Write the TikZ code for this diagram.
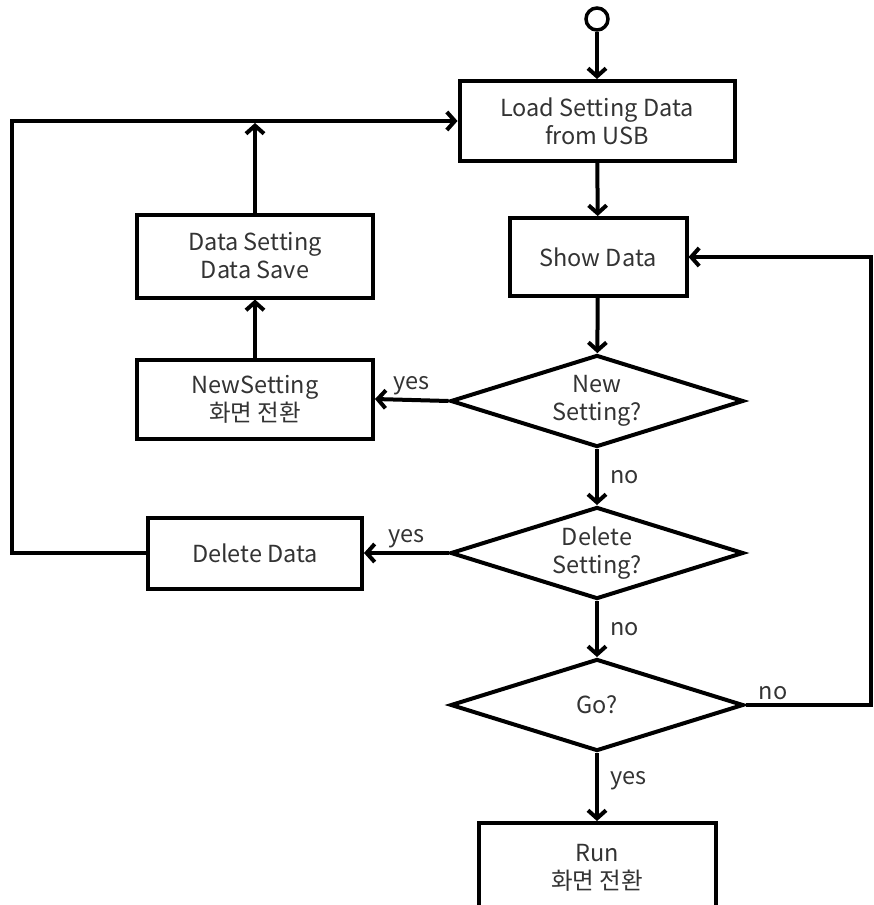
\documentclass[tikz,border=0pt]{standalone}
\usepackage{fontspec}
\setmainfont{Noto Sans CJK KR}
\usetikzlibrary{shapes.geometric,arrows.meta}

\begin{document}
\begin{tikzpicture}[x=1pt, y=-1pt,
  every node/.style={font=\fontsize{23.5}{28}\selectfont, text=black!80},
  box/.style={draw=black, line width=4pt, rectangle, inner sep=0pt, align=center},
  test/.style={draw=black, line width=4pt, diamond, aspect=3, inner sep=0pt,
    minimum width=293pt, minimum height=92pt, align=center},
  flow/.style={line width=4pt, -{Straight Barb[length=8pt,width=18pt]}}]
  \useasboundingbox (0,0) rectangle (873,905);

  % main column
  \node[draw=black, circle, line width=3.5pt, minimum size=22pt, inner sep=0pt] (start) at (597,19) {};
  \node[box, minimum width=275pt, minimum height=80pt] (load) at (597,121) {Load Setting Data\\from USB};
  \node[box, minimum width=177pt, minimum height=78pt] (show) at (598,257) {Show Data};
  \node[test] (newset) at (597,401) {New\\Setting?};
  \node[test] (delset) at (597,553) {Delete\\Setting?};
  \node[test] (go) at (597,705) {Go?};
  \node[box, minimum width=237pt, minimum height=90pt] (run) at (597,868) {Run\\화면 전환};

  % left column
  \node[box, minimum width=236pt, minimum height=83pt] (dsave) at (255,256) {Data Setting\\Data Save};
  \node[box, minimum width=236pt, minimum height=79pt] (nsbox) at (255,399) {NewSetting\\화면 전환};
  \node[box, minimum width=214pt, minimum height=71pt] (deldata) at (255,553) {Delete Data};

  % return points
  \coordinate (lcorner) at (12,553);
  \coordinate (rcorner) at (871,705);

  \draw[flow] (start) -- (load);
  \draw[flow] (load) -- (show);
  \draw[flow] (show) -- (newset);
  \draw[flow] (newset) -- node[right, xshift=8pt] {no} (delset);
  \draw[flow] (delset) -- node[right, xshift=8pt] {no} (go);
  \draw[flow] (go) -- node[right, xshift=8pt, pos=0.4] {yes} (run);

  \draw[flow] (newset.west) -- node[above] {yes} (nsbox.east);
  \draw[flow] (delset.west) -- node[above] {yes} (deldata.east);
  \draw[flow] (nsbox) -- (dsave);
  \draw[flow] (dsave.north) -- ([yshift=-2pt]dsave.north |- load.west);

  \draw[flow] (deldata.west) -- (lcorner) |- (load.west);
  \draw[flow] (go.east) -- node[above, pos=0.22] {no} (rcorner) |- (show.east);
\end{tikzpicture}
\end{document}
